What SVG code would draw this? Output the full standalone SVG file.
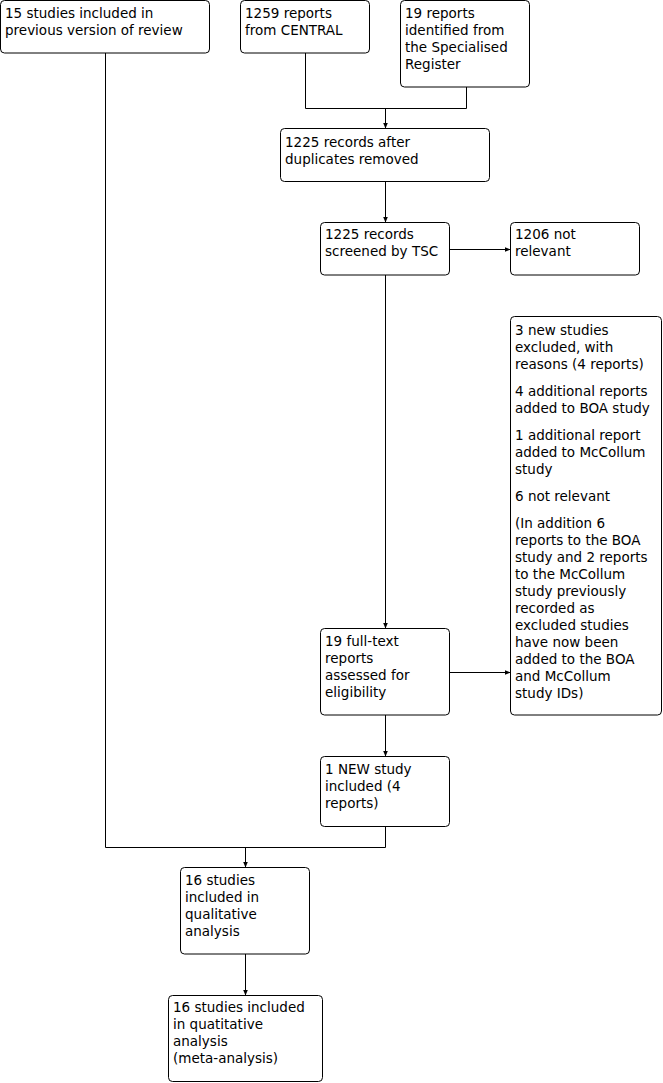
<svg xmlns="http://www.w3.org/2000/svg" width="663" height="1083" viewBox="0 0 663 1083">
<style>
.box{fill:#fff;stroke:#000;stroke-width:1}
.t{font-family:"DejaVu Sans",Verdana,sans-serif;font-size:13.5px;fill:#000}
.c{fill:none;stroke:#000;stroke-width:1}
</style>
<defs>
<marker id="ah" markerWidth="6" markerHeight="6" refX="6" refY="3" orient="auto" markerUnits="userSpaceOnUse">
<path d="M0,0.5 L6,3 L0,5.5 Z" fill="#000"/>
</marker>
</defs>
<rect width="663" height="1083" fill="#fff"/>
<g id="connectors">
<polyline class="c" points="105.5,53 105.5,847.5 385.5,847.5"/>
<line class="c" x1="385.5" y1="826.5" x2="385.5" y2="847.5"/>
<line class="c" x1="245.5" y1="847.5" x2="245.5" y2="867.5" marker-end="url(#ah)"/>
<polyline class="c" points="305.5,53 305.5,108.5 466.5,108.5 466.5,87"/>
<line class="c" x1="385.5" y1="108.5" x2="385.5" y2="128.5" marker-end="url(#ah)"/>
<line class="c" x1="385.5" y1="181.5" x2="385.5" y2="222.5" marker-end="url(#ah)"/>
<line class="c" x1="449.5" y1="249.5" x2="510.5" y2="249.5" marker-end="url(#ah)"/>
<line class="c" x1="385.5" y1="275" x2="385.5" y2="628.5" marker-end="url(#ah)"/>
<line class="c" x1="449.5" y1="672.5" x2="510.5" y2="672.5" marker-end="url(#ah)"/>
<line class="c" x1="385.5" y1="715" x2="385.5" y2="756.5" marker-end="url(#ah)"/>
<line class="c" x1="245.5" y1="954" x2="245.5" y2="995.5" marker-end="url(#ah)"/>
</g>
<g id="n_prev">
<rect class="box" x="0.5" y="0.5" width="209" height="52.5" rx="4"/>
<text class="t" x="5" y="18">15 studies included in</text>
<text class="t" x="5" y="35">previous version of review</text>
</g>
<g id="n_central">
<rect class="box" x="240.5" y="0.5" width="129" height="52.5" rx="4"/>
<text class="t" x="245" y="18">1259 reports</text>
<text class="t" x="245" y="35">from CENTRAL</text>
</g>
<g id="n_register">
<rect class="box" x="400.5" y="0.5" width="129" height="86.5" rx="4"/>
<text class="t" x="405" y="18">19 reports</text>
<text class="t" x="405" y="35">identified from</text>
<text class="t" x="405" y="52">the Specialised</text>
<text class="t" x="405" y="69">Register</text>
</g>
<g id="n_dup">
<rect class="box" x="280.5" y="128.5" width="209" height="53" rx="4"/>
<text class="t" x="285" y="146.5">1225 records after</text>
<text class="t" x="285" y="163.5">duplicates removed</text>
</g>
<g id="n_screened">
<rect class="box" x="320.5" y="222.5" width="129" height="52.5" rx="4"/>
<text class="t" x="325" y="239">1225 records</text>
<text class="t" x="325" y="256">screened by TSC</text>
</g>
<g id="n_notrel">
<rect class="box" x="510.5" y="222.5" width="129" height="52.5" rx="4"/>
<text class="t" x="515" y="239">1206 not</text>
<text class="t" x="515" y="256">relevant</text>
</g>
<g id="n_excluded">
<rect class="box" x="510.5" y="316.5" width="151" height="398.5" rx="4"/>
<text class="t" x="515" y="335">3 new studies</text>
<text class="t" x="515" y="352">excluded, with</text>
<text class="t" x="515" y="369">reasons (4 reports)</text>
<text class="t" x="515" y="396">4 additional reports</text>
<text class="t" x="515" y="413">added to BOA study</text>
<text class="t" x="515" y="440">1 additional report</text>
<text class="t" x="515" y="457">added to McCollum</text>
<text class="t" x="515" y="474">study</text>
<text class="t" x="515" y="501">6 not relevant</text>
<text class="t" x="515" y="528">(In addition 6</text>
<text class="t" x="515" y="545">reports to the BOA</text>
<text class="t" x="515" y="562">study and 2 reports</text>
<text class="t" x="515" y="579">to the McCollum</text>
<text class="t" x="515" y="596">study previously</text>
<text class="t" x="515" y="613">recorded as</text>
<text class="t" x="515" y="630">excluded studies</text>
<text class="t" x="515" y="647">have now been</text>
<text class="t" x="515" y="664">added to the BOA</text>
<text class="t" x="515" y="681">and McCollum</text>
<text class="t" x="515" y="698">study IDs)</text>
</g>
<g id="n_fulltext">
<rect class="box" x="320.5" y="628.5" width="129" height="86.5" rx="4"/>
<text class="t" x="325" y="645.5">19 full-text</text>
<text class="t" x="325" y="662.5">reports</text>
<text class="t" x="325" y="679.5">assessed for</text>
<text class="t" x="325" y="696.5">eligibility</text>
</g>
<g id="n_new">
<rect class="box" x="320.5" y="756.5" width="129" height="70" rx="4"/>
<text class="t" x="325" y="773.5">1 NEW study</text>
<text class="t" x="325" y="790.5">included (4</text>
<text class="t" x="325" y="807.5">reports)</text>
</g>
<g id="n_qual">
<rect class="box" x="180.5" y="867.5" width="129" height="86.5" rx="4"/>
<text class="t" x="185" y="884.5">16 studies</text>
<text class="t" x="185" y="901.5">included in</text>
<text class="t" x="185" y="918.5">qualitative</text>
<text class="t" x="185" y="935.5">analysis</text>
</g>
<g id="n_quant">
<rect class="box" x="168.5" y="995.5" width="154" height="86" rx="4"/>
<text class="t" x="173" y="1012">16 studies included</text>
<text class="t" x="173" y="1029">in quatitative</text>
<text class="t" x="173" y="1046">analysis</text>
<text class="t" x="173" y="1063">(meta-analysis)</text>
</g>
</svg>
